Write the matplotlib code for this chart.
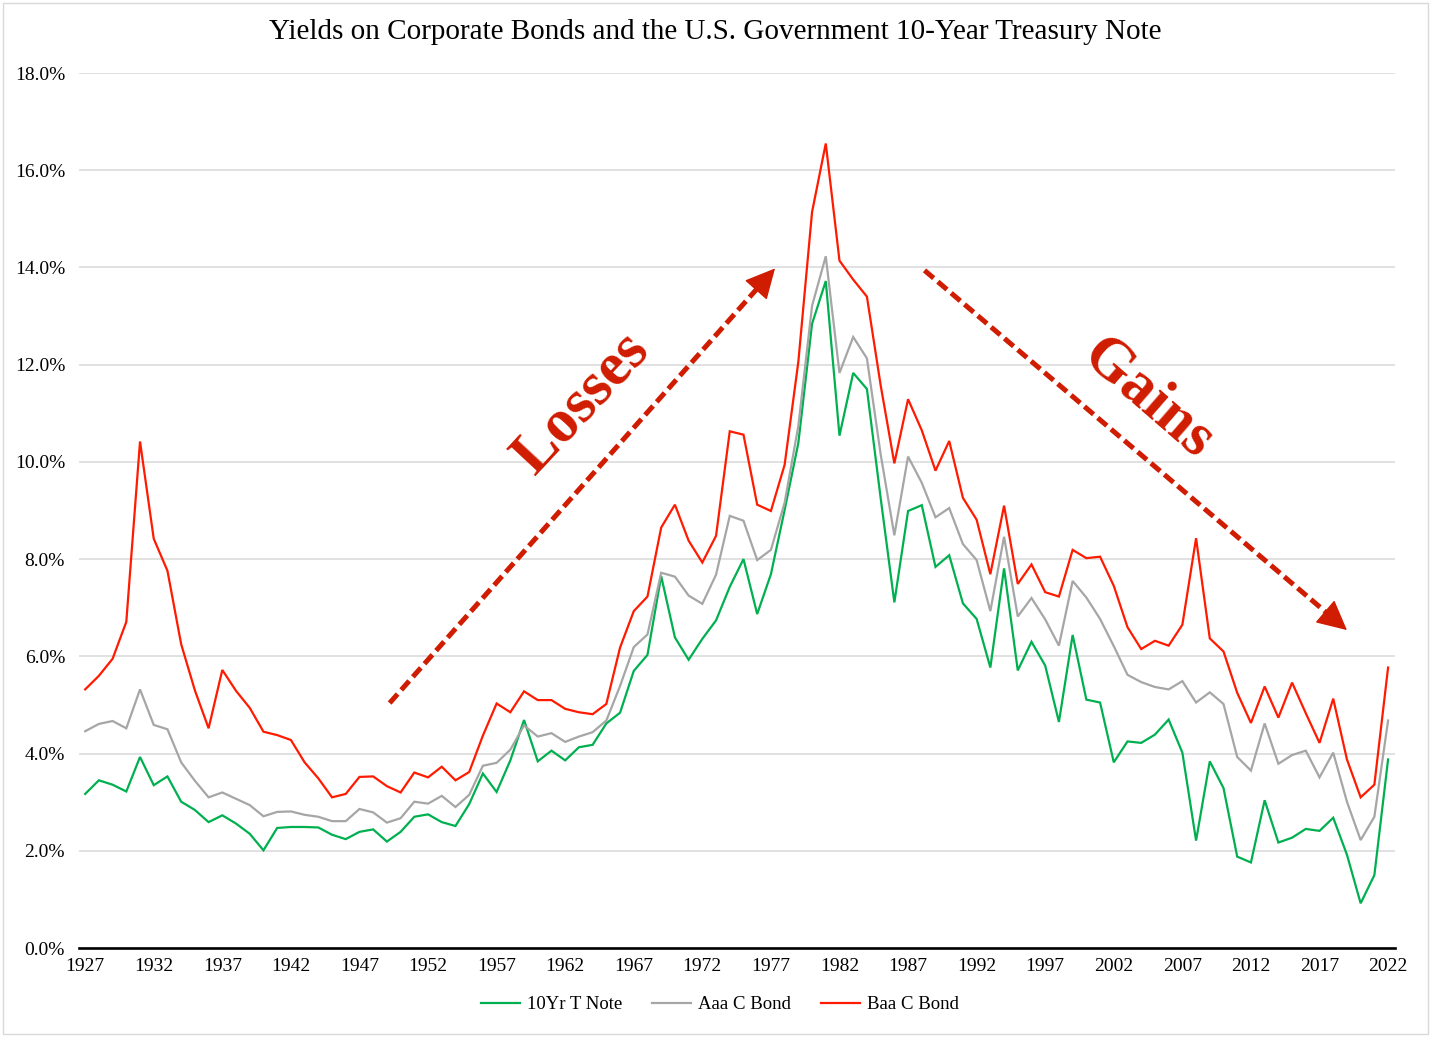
import matplotlib
matplotlib.use("Agg")
import matplotlib.pyplot as plt
from matplotlib.patches import Rectangle
from matplotlib.ticker import FuncFormatter
import numpy as np

plt.rcParams['font.family'] = ['Liberation Serif', 'DejaVu Serif']

years = list(range(1927, 2023))

# yields in percent
tnote = [3.17, 3.45, 3.36, 3.22, 3.93, 3.35, 3.53, 3.01, 2.84, 2.59,
         2.73, 2.56, 2.35, 2.01, 2.47, 2.49, 2.49, 2.48, 2.33, 2.24,
         2.39, 2.44, 2.19, 2.39, 2.70, 2.75, 2.59, 2.51, 2.96, 3.59,
         3.21, 3.86, 4.69, 3.84, 4.06, 3.86, 4.13, 4.18, 4.62, 4.84,
         5.70, 6.03, 7.65, 6.39, 5.93, 6.36, 6.74, 7.43, 8.00, 6.87,
         7.69, 9.01, 10.39, 12.84, 13.72, 10.54, 11.83, 11.50, 9.26, 7.11,
         8.99, 9.11, 7.84, 8.08, 7.09, 6.77, 5.77, 7.81, 5.71, 6.30,
         5.81, 4.65, 6.44, 5.11, 5.05, 3.82, 4.25, 4.22, 4.39, 4.70,
         4.02, 2.21, 3.84, 3.29, 1.88, 1.76, 3.04, 2.17, 2.27, 2.45,
         2.41, 2.68, 1.92, 0.92, 1.50, 3.88]

aaa = [4.46, 4.61, 4.67, 4.52, 5.32, 4.59, 4.50, 3.82, 3.44, 3.10,
       3.20, 3.07, 2.94, 2.71, 2.80, 2.81, 2.74, 2.70, 2.61, 2.61,
       2.86, 2.79, 2.58, 2.67, 3.01, 2.97, 3.13, 2.90, 3.15, 3.75,
       3.81, 4.08, 4.58, 4.35, 4.42, 4.24, 4.35, 4.44, 4.68, 5.39,
       6.19, 6.45, 7.72, 7.64, 7.25, 7.08, 7.68, 8.89, 8.79, 7.98,
       8.19, 9.16, 10.74, 13.21, 14.23, 11.83, 12.57, 12.13, 10.16, 8.49,
       10.11, 9.57, 8.86, 9.05, 8.31, 7.98, 6.93, 8.46, 6.82, 7.20,
       6.76, 6.22, 7.55, 7.21, 6.77, 6.21, 5.62, 5.47, 5.37, 5.32,
       5.49, 5.05, 5.26, 5.02, 3.93, 3.65, 4.62, 3.79, 3.97, 4.06,
       3.51, 4.02, 3.01, 2.22, 2.70, 4.68]

baa = [5.32, 5.60, 5.95, 6.71, 10.42, 8.42, 7.76, 6.25, 5.30, 4.52,
       5.72, 5.29, 4.94, 4.45, 4.38, 4.28, 3.82, 3.49, 3.10, 3.17,
       3.52, 3.53, 3.33, 3.20, 3.61, 3.51, 3.73, 3.45, 3.62, 4.37,
       5.03, 4.85, 5.28, 5.10, 5.10, 4.92, 4.85, 4.81, 5.02, 6.18,
       6.93, 7.23, 8.65, 9.12, 8.38, 7.93, 8.48, 10.63, 10.56, 9.12,
       8.99, 9.94, 12.06, 15.14, 16.55, 14.14, 13.75, 13.40, 11.58, 9.97,
       11.29, 10.65, 9.82, 10.43, 9.26, 8.81, 7.69, 9.10, 7.49, 7.89,
       7.32, 7.23, 8.19, 8.02, 8.05, 7.45, 6.60, 6.15, 6.32, 6.22,
       6.65, 8.43, 6.37, 6.10, 5.25, 4.63, 5.38, 4.74, 5.46, 4.83,
       4.22, 5.13, 3.88, 3.10, 3.36, 5.77]

series_names = ['10Yr T Note', 'Aaa C Bond', 'Baa C Bond']
series_colors = ['#00B050', '#A6A6A6', '#FF1A00']
arrow_red = '#D01C00'

fig = plt.figure(figsize=(14.31, 10.37), dpi=100)
ax = fig.add_axes([0.0552, 0.0858, 0.9196, 0.8438])

for vals, name, col in zip([tnote, aaa, baa], series_names, series_colors):
    ax.plot(years, vals, color=col, lw=1.6, label=name, solid_joinstyle='miter')

ax.set_xlim(1926.55, 2022.5)
ax.set_ylim(0, 18)
ax.set_yticks(np.arange(0, 18.1, 2))
ax.yaxis.set_major_formatter(FuncFormatter(lambda v, p: '%.1f%%' % v))
ax.set_xticks(years[::5])
ax.grid(axis='y', color='#D9D9D9', lw=1.1)
ax.set_axisbelow(True)
for s in ['top', 'right', 'left']:
    ax.spines[s].set_visible(False)
ax.spines['bottom'].set_linewidth(1.9)
ax.spines['bottom'].set_color('black')
ax.tick_params(axis='both', length=0, labelsize=14)
ax.tick_params(axis='x', pad=7)
ax.tick_params(axis='y', pad=10)

# dashed arrows
def dashed_arrow(start, tip):
    sx, sy = start
    tx, ty = tip
    bx = tx - 0.045 * (tx - sx)
    by = ty - 0.045 * (ty - sy)
    ax.plot([sx, bx], [sy, by], color=arrow_red, lw=3.6,
            dashes=(2.4, 1.1), solid_capstyle='butt', dash_capstyle='butt')
    ax.annotate('', xy=(tx, ty), xytext=(bx, by),
                arrowprops=dict(arrowstyle='-|>,head_length=1.2,head_width=0.6',
                                color=arrow_red, lw=1, mutation_scale=16,
                                shrinkA=0, shrinkB=0))

dashed_arrow((1949.2, 5.04), (1977.3, 13.98))
dashed_arrow((1988.2, 13.94), (2019.0, 6.54))

ax.text(1963.2, 11.2, 'Losses', color=arrow_red, fontsize=44, fontweight='bold',
        rotation=47, ha='center', va='center', rotation_mode='anchor')
ax.text(2004.5, 11.3, 'Gains', color=arrow_red, fontsize=44, fontweight='bold',
        rotation=-41, ha='center', va='center', rotation_mode='anchor')

fig.suptitle('Yields on Corporate Bonds and the U.S. Government 10-Year Treasury Note',
             x=0.5, y=0.969, va='center', fontsize=21)

fig.legend(loc='center', bbox_to_anchor=(0.503, 0.031), ncol=3, frameon=False,
           fontsize=13.5, handlelength=2.1, handletextpad=0.35, columnspacing=1.6)

fig.patches.append(Rectangle((0.002, 0.003), 0.996, 0.994, transform=fig.transFigure,
                             fill=False, edgecolor='#D9D9D9', lw=1))

plt.savefig('out.png', dpi=100)
